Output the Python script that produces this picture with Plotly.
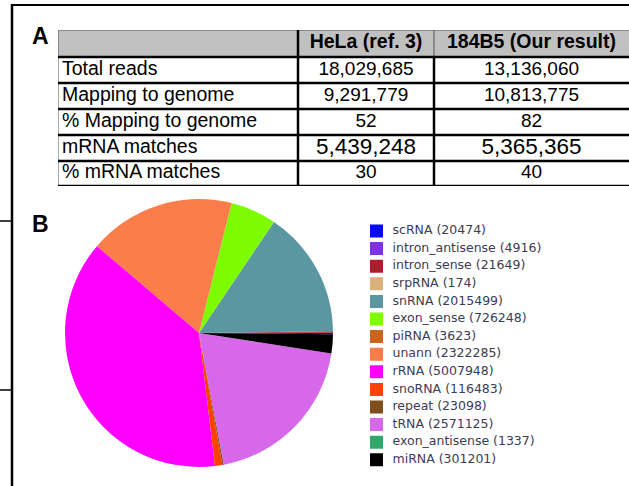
import plotly.graph_objects as go

# ---- Table data (panel A) ----
row_labels = ["Total reads", "Mapping to genome", "% Mapping to genome",
              "mRNA matches", "% mRNA matches"]
hela_values = ["18,029,685", "9,291,779", "52", "5,439,248", "30"]
b184_values = ["13,136,060", "10,813,775", "82", "5,365,365", "40"]
header_labels = ["HeLa (ref. 3)", "184B5 (Our result)"]

# ---- Pie data (panel B) ----
rna_classes = ["scRNA", "intron_antisense", "intron_sense", "srpRNA", "snRNA",
               "exon_sense", "piRNA", "unann", "rRNA", "snoRNA", "repeat",
               "tRNA", "exon_antisense", "miRNA"]
rna_counts = [20474, 4916, 21649, 174, 2015499, 726248, 3623, 2322285,
              5007948, 116483, 23098, 2571125, 1337, 301201]
rna_colors = ["#0a0af5", "#7b32e8", "#b01c2e", "#d9b27a", "#5b97a1",
              "#7dfc00", "#cc651c", "#fa7d4a", "#ff00ff", "#ff4200",
              "#7e4f1c", "#d868ea", "#2fa86a", "#000000"]

W, H = 629, 486

def px_x(x):
    return x / W

def px_y(y):
    return 1 - y / H

fig = go.Figure()

# ---------------- Table (panel A) on its own pixel-scaled axes ----------------
col_edges = [58, 298, 434, 629]          # layout: column boundaries
row_edges = [30, 57, 83, 109, 135, 161, 186]  # layout: row boundaries
label_x = col_edges[0] + 4
col_centers = [(col_edges[1] + col_edges[2]) / 2, (col_edges[2] + col_edges[3]) / 2]
row_centers = [(row_edges[i] + row_edges[i + 1]) / 2 for i in range(len(row_edges) - 1)]
big_row = 3

tx, ty = "x3", "y3"
# header text
fig.add_trace(go.Scatter(
    x=col_centers, y=[row_centers[0]] * 2, mode="text",
    text=["<b>%s</b>" % h for h in header_labels], textposition="middle center",
    textfont=dict(family="Liberation Sans, Arial", size=19.5, color="black"),
    xaxis=tx, yaxis=ty, showlegend=False, hoverinfo="skip", cliponaxis=False,
))
# row labels
fig.add_trace(go.Scatter(
    x=[label_x] * len(row_labels), y=row_centers[1:], mode="text",
    text=row_labels, textposition="middle right",
    textfont=dict(family="Liberation Sans, Arial", size=19.5, color="black"),
    xaxis=tx, yaxis=ty, showlegend=False, hoverinfo="skip", cliponaxis=False,
))
# value columns
for ci, vals in enumerate([hela_values, b184_values]):
    fig.add_trace(go.Scatter(
        x=[col_centers[ci]] * len(vals), y=row_centers[1:], mode="text",
        text=vals, textposition="middle center",
        textfont=dict(family="Liberation Sans, Arial",
                      size=[22.5 if i == big_row else 19 for i in range(len(vals))],
                      color="black"),
        xaxis=tx, yaxis=ty, showlegend=False, hoverinfo="skip", cliponaxis=False,
    ))

thick = dict(color="black", width=2.5)
thin = dict(color="#555555", width=1)
tshapes = [
    # header fill
    dict(type="rect", xref=tx, yref=ty, x0=col_edges[0], x1=col_edges[3],
         y0=row_edges[0], y1=row_edges[1], fillcolor="#c0c0c0",
         line=dict(width=0), layer="below"),
    # top & left thin border
    dict(type="line", xref=tx, yref=ty, x0=col_edges[0], x1=col_edges[3],
         y0=row_edges[0], y1=row_edges[0], line=thin),
    dict(type="line", xref=tx, yref=ty, x0=col_edges[0], x1=col_edges[0],
         y0=row_edges[0], y1=row_edges[-1], line=thin),
    # column separators
    dict(type="line", xref=tx, yref=ty, x0=col_edges[1], x1=col_edges[1],
         y0=row_edges[0], y1=row_edges[-1], line=thick),
    dict(type="line", xref=tx, yref=ty, x0=col_edges[2], x1=col_edges[2],
         y0=row_edges[0], y1=row_edges[1], line=thin),
    dict(type="line", xref=tx, yref=ty, x0=col_edges[2], x1=col_edges[2],
         y0=row_edges[1], y1=row_edges[-1], line=thick),
]
for ye in row_edges[1:]:
    tshapes.append(dict(type="line", xref=tx, yref=ty, x0=col_edges[0],
                        x1=col_edges[3], y0=ye, y1=ye, line=thick))

# ---------------- Pie (panel B) ----------------
cx, cy, r = 199, 333, 134
fig.add_trace(go.Pie(
    labels=rna_classes,
    values=rna_counts,
    marker=dict(colors=rna_colors, line=dict(width=0)),
    sort=False,
    direction="counterclockwise",
    rotation=90,
    textinfo="none",
    hoverinfo="label+value",
    showlegend=False,
    domain=dict(x=[px_x(cx - r), px_x(cx + r)], y=[px_y(cy + r), px_y(cy - r)]),
))

# ---- Legend drawn as scatter on its own axes ----
idx = list(range(len(rna_classes)))
legend_text = ["%s (%d)" % (n, v) for n, v in zip(rna_classes, rna_counts)]
fig.add_trace(go.Scatter(
    x=[0] * len(idx), y=idx, mode="markers",
    marker=dict(symbol="square", size=13, color=rna_colors, line=dict(width=0)),
    xaxis="x2", yaxis="y2", showlegend=False, hoverinfo="skip",
))
fig.add_trace(go.Scatter(
    x=[16] * len(idx), y=idx, mode="text", text=legend_text,
    textposition="middle right",
    textfont=dict(family="DejaVu Sans", size=12.5, color="#3a3d55"),
    xaxis="x2", yaxis="y2", showlegend=False, hoverinfo="skip", cliponaxis=False,
))

step = 17.6
first_c = 231
top_px = first_c - step / 2
bot_px = first_c + step * (len(idx) - 0.5)

fig.update_layout(
    xaxis2=dict(domain=[px_x(370), 1.0], range=[-6.5, W - 370 - 6.5],
                visible=False, fixedrange=True),
    yaxis2=dict(domain=[px_y(bot_px), px_y(top_px)],
                range=[len(idx) - 0.5, -0.5], visible=False, fixedrange=True),
    xaxis3=dict(domain=[px_x(col_edges[0]), px_x(col_edges[3])],
                range=[col_edges[0], col_edges[3]], visible=False, fixedrange=True),
    yaxis3=dict(domain=[px_y(row_edges[-1]), px_y(row_edges[0])],
                range=[row_edges[-1], row_edges[0]], visible=False, fixedrange=True),
    xaxis=dict(visible=False), yaxis=dict(visible=False),
)

# ---- Frame lines and panel letters ----
line_style = dict(color="black", width=2.5)
shapes = tshapes + [
    dict(type="line", xref="paper", yref="paper", x0=px_x(12), x1=1.0,
         y0=px_y(5), y1=px_y(5), line=dict(color="black", width=2)),
    dict(type="line", xref="paper", yref="paper", x0=px_x(12), x1=px_x(12),
         y0=px_y(4), y1=0, line=line_style),
    dict(type="line", xref="paper", yref="paper", x0=0, x1=px_x(12),
         y0=px_y(221), y1=px_y(221), line=dict(color="black", width=1.5)),
    dict(type="line", xref="paper", yref="paper", x0=0, x1=px_x(12),
         y0=px_y(390), y1=px_y(390), line=dict(color="black", width=1.5)),
]
annotations = [
    dict(text="<b>A</b>", x=px_x(30), y=px_y(21), xref="paper", yref="paper",
         xanchor="left", yanchor="top", showarrow=False,
         font=dict(family="Liberation Sans, Arial", size=23, color="black")),
    dict(text="<b>B</b>", x=px_x(30), y=px_y(209), xref="paper", yref="paper",
         xanchor="left", yanchor="top", showarrow=False,
         font=dict(family="Liberation Sans, Arial", size=23, color="black")),
]

fig.update_layout(
    width=W, height=H,
    margin=dict(l=0, r=0, t=0, b=0),
    paper_bgcolor="white",
    plot_bgcolor="white",
    shapes=shapes,
    annotations=annotations,
    showlegend=False,
)

fig.write_html("out.html",
               config={"displayModeBar": False},
               post_script="document.body.style.margin='0';document.body.style.padding='0';")
